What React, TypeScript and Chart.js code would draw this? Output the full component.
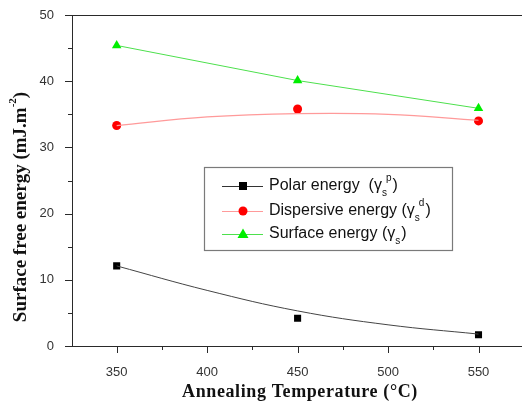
import React, { useEffect, useRef } from "react";
import { Chart, registerables } from "chart.js";

Chart.register(...registerables);

const temps = [350, 450, 550];
const polar = [12.1, 4.2, 1.7];
const dispersive = [33.3, 35.8, 34.0];
const surface = [45.4, 40.1, 35.9];
const fitTemps = [350, 400, 450, 500, 550];
const polarFit = [12.1, 8.4, 5.3, 3.2, 1.8];
const dispersiveFit = [33.3, 34.6, 35.1, 35.0, 34.1];
const xTicks = [350, 400, 450, 500, 550];
const yTicks = [0, 10, 20, 30, 40, 50];

const pts = (xs: number[], ys: number[]) => xs.map((x, i) => ({ x, y: ys[i] }));

const AXIS = "#2a2a2a";

function drawMarker(ctx: CanvasRenderingContext2D, kind: string, x: number, y: number, color: string) {
  ctx.save();
  ctx.fillStyle = color;
  ctx.beginPath();
  if (kind === "rect") {
    ctx.rect(x - 4, y - 4, 8, 8);
  } else if (kind === "circle") {
    ctx.arc(x, y, 4.5, 0, Math.PI * 2);
  } else {
    ctx.moveTo(x, y - 5.5);
    ctx.lineTo(x + 5.5, y + 4);
    ctx.lineTo(x - 5.5, y + 4);
    ctx.closePath();
  }
  ctx.fill();
  ctx.restore();
}

const decorPlugin = {
  id: "decor",
  afterDraw(chart: any) {
    const ctx: CanvasRenderingContext2D = chart.ctx;
    const { left, right, top, bottom } = chart.chartArea;
    const xs = chart.scales.x;
    const ys = chart.scales.y;
    ctx.save();
    ctx.strokeStyle = AXIS;
    ctx.lineWidth = 1;
    // top border and extension of the bottom axis to the picture edge
    ctx.beginPath();
    ctx.moveTo(left, top + 0.5);
    ctx.lineTo(chart.width, top + 0.5);
    ctx.moveTo(right - 1, bottom + 0.5);
    ctx.lineTo(chart.width, bottom + 0.5);
    ctx.stroke();
    // y ticks
    for (let v = 0; v <= 50; v += 5) {
      const py = Math.round(ys.getPixelForValue(v)) + 0.5;
      const len = v % 10 === 0 ? 7 : 4;
      ctx.beginPath();
      ctx.moveTo(left, py);
      ctx.lineTo(left - len, py);
      ctx.stroke();
    }
    // x ticks
    for (let v = 350; v <= 550; v += 25) {
      const px = Math.round(xs.getPixelForValue(v)) + 0.5;
      const len = v % 50 === 0 ? 7 : 4;
      ctx.beginPath();
      ctx.moveTo(px, bottom);
      ctx.lineTo(px, bottom + len);
      ctx.stroke();
    }
    // x title
    ctx.fillStyle = "#111";
    ctx.font = "bold 18px 'Liberation Serif', 'Times New Roman', serif";
    (ctx as any).letterSpacing = "0.6px";
    ctx.textAlign = "center";
    ctx.textBaseline = "middle";
    ctx.fillText("Annealing Temperature (°C)", 300, 392);
    (ctx as any).letterSpacing = "0px";
    // y title
    ctx.save();
    ctx.translate(21, 207);
    ctx.rotate(-Math.PI / 2);
    const main = "Surface free energy (mJ.m";
    const big = "bold 19px 'Liberation Serif', 'Times New Roman', serif";
    const small = "bold 11px 'Liberation Serif', serif";
    ctx.font = big;
    const w1 = ctx.measureText(main).width;
    ctx.font = small;
    const wsup = ctx.measureText("-2").width;
    ctx.font = big;
    const w3 = ctx.measureText(")").width;
    const total = w1 + wsup + w3;
    let sx = -total / 2;
    ctx.textAlign = "left";
    ctx.fillText(main, sx, 0);
    sx += w1;
    ctx.font = small;
    ctx.fillText("-2", sx, -8);
    sx += wsup;
    ctx.font = big;
    ctx.fillText(")", sx, 0);
    ctx.restore();

    // legend
    const bx = 204, by = 167, bw = 248, bh = 83;
    ctx.strokeStyle = "#7a7a7a";
    ctx.lineWidth = 1.2;
    ctx.strokeRect(bx + 0.5, by + 0.5, bw, bh);
    const rows = [
      { y: 186, line: "#333", marker: "#000", kind: "rect", text: "Polar energy  (γ", sup: "p" },
      { y: 211, line: "#ff9a9a", marker: "#ff0000", kind: "circle", text: "Dispersive energy (γ", sup: "d" },
      { y: 234, line: "#4de04d", marker: "#00ee00", kind: "triangle", text: "Surface energy (γ", sup: "" },
    ];
    for (const r of rows) {
      ctx.strokeStyle = r.line;
      ctx.lineWidth = 1;
      ctx.beginPath();
      ctx.moveTo(222, r.y + 0.5);
      ctx.lineTo(263, r.y + 0.5);
      ctx.stroke();
      drawMarker(ctx, r.kind, 243, r.y, r.marker);
      ctx.fillStyle = "#111";
      ctx.textAlign = "left";
      ctx.textBaseline = "middle";
      ctx.font = "16px 'Liberation Sans', Arial, sans-serif";
      let tx = 269;
      ctx.fillText(r.text, tx, r.y);
      tx += ctx.measureText(r.text).width;
      ctx.font = "10px 'Liberation Sans', Arial, sans-serif";
      ctx.fillText("s", tx, r.y + 7);
      let sw = ctx.measureText("s").width;
      if (r.sup) {
        ctx.fillText(r.sup, tx + sw - 1, r.y - 8);
        sw = sw - 1 + ctx.measureText(r.sup).width;
      }
      tx += sw + 1;
      ctx.font = "16px 'Liberation Sans', Arial, sans-serif";
      ctx.fillText(")", tx, r.y);
    }
    ctx.restore();
  },
};

export default function App() {
  const ref = useRef<HTMLCanvasElement | null>(null);
  useEffect(() => {
    document.body.style.margin = "0";
    const canvas = ref.current!;
    const tickFont = { family: "'Liberation Sans', Arial, sans-serif", size: 13 };
    const zeroPad = (s: any) => {
      s.paddingTop = 0;
      s.paddingBottom = 0;
      s.paddingLeft = 0;
      s.paddingRight = 0;
    };
    const chart = new Chart(canvas, {
      type: "scatter",
      data: {
        datasets: [
          {
            label: "Polar fit",
            data: pts(fitTemps, polarFit),
            showLine: true,
            borderColor: "#444",
            borderWidth: 1,
            pointRadius: 0,
            tension: 0.4,
          },
          {
            label: "Dispersive fit",
            data: pts(fitTemps, dispersiveFit),
            showLine: true,
            borderColor: "#ff9a9a",
            borderWidth: 1.2,
            pointRadius: 0,
            tension: 0.4,
          },
          {
            label: "Surface energy",
            data: pts(temps, surface),
            showLine: true,
            borderColor: "#4de04d",
            borderWidth: 1,
            backgroundColor: "#00ee00",
            pointBackgroundColor: "#00ee00",
            pointBorderWidth: 0,
            pointStyle: "triangle",
            pointRadius: 5.5,
          },
          {
            label: "Polar energy",
            data: pts(temps, polar),
            showLine: false,
            backgroundColor: "#000",
            pointBorderWidth: 0,
            pointStyle: "rect",
            pointRadius: 5,
          },
          {
            label: "Dispersive energy",
            data: pts(temps, dispersive),
            showLine: false,
            backgroundColor: "#ff0000",
            pointBorderWidth: 0,
            pointStyle: "circle",
            pointRadius: 4.5,
          },
        ],
      },
      options: {
        animation: false,
        responsive: false,
        devicePixelRatio: 1,
        layout: { padding: { top: 15, right: 0, left: 0, bottom: 0 } },
        plugins: { legend: { display: false }, tooltip: { enabled: false } },
        scales: {
          x: {
            type: "linear",
            min: 325.3,
            max: 571,
            grid: { display: false },
            border: { display: true, color: AXIS, width: 1 },
            ticks: { font: tickFont, color: "#333", padding: 11, maxRotation: 0 },
            afterBuildTicks: (s: any) => {
              s.ticks = xTicks.map((v) => ({ value: v }));
            },
            afterFit: (s: any) => {
              s.height = 59;
              zeroPad(s);
            },
          },
          y: {
            type: "linear",
            min: 0,
            max: 50,
            grid: { display: false },
            border: { display: true, color: AXIS, width: 1 },
            ticks: { font: tickFont, color: "#333", padding: 10 },
            afterBuildTicks: (s: any) => {
              s.ticks = yTicks.map((v) => ({ value: v }));
            },
            afterFit: (s: any) => {
              s.width = 72;
              zeroPad(s);
            },
          },
        },
      },
      plugins: [decorPlugin],
    } as any);
    return () => chart.destroy();
  }, []);
  return (
    <div style={{ position: "absolute", left: 0, top: 0, width: 522, height: 405 }}>
      <canvas ref={ref} width={522} height={405} style={{ width: 522, height: 405 }} />
    </div>
  );
}
